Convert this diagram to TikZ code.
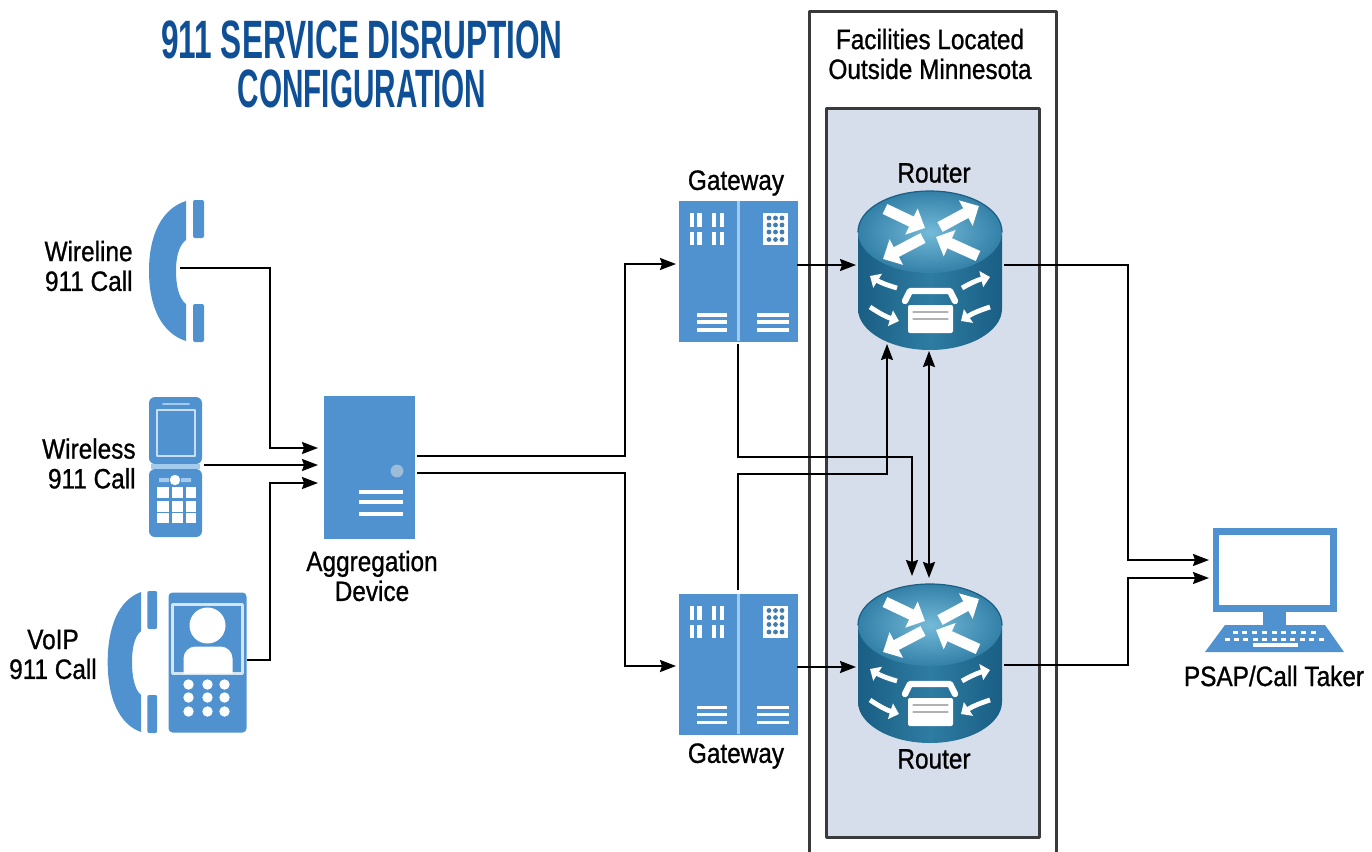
\documentclass[tikz,border=0pt]{standalone}
\usepackage{fontspec}
\setmainfont[FakeStretch=0.87,FakeBold=0.9]{Liberation Sans}
\newfontfamily\titlefont[FakeStretch=0.585]{Liberation Sans}
\newfontfamily\titlefontB[FakeStretch=0.55]{Liberation Sans}
\usetikzlibrary{arrows.meta}
\definecolor{iconblue}{HTML}{4F92CF}
\definecolor{iconpale}{HTML}{A3CBEE}
\definecolor{titleblue}{HTML}{0F4F96}
\definecolor{panelblue}{HTML}{D5DEEA}
\definecolor{frameblack}{HTML}{3A3A3A}
\definecolor{routerdark}{HTML}{1A5E84}
\definecolor{routermid}{HTML}{2E7CA2}
\definecolor{routertop}{HTML}{3380A8}
\definecolor{routerlight}{HTML}{74BAD8}

\tikzset{
    iconbox/.style={rectangle, fill=iconblue, inner sep=0pt, outer sep=0pt},
    iconslot/.style={rectangle, inner sep=0pt, outer sep=0pt},
    lbl/.style={inner sep=0pt, align=center, font=\fontsize{14}{15}\selectfont},
    wire/.style={line width=1pt, line cap=butt, line join=miter},
    bigarrow/.style={white, line width=5.5pt, line cap=butt, -{Triangle[length=7.5pt,width=14pt]}},
    tinyarrow/.style={white, line width=2.4pt, line cap=butt, -{Triangle[length=4.5pt,width=8pt]}},
    % origin at the top left of a gateway box
    pics/gatewayicon/.style={code={
        \fill[iconpale] (57.5,0) rectangle (60.5,140);
        \foreach \xa/\xb in {11/15, 18/23, 33/37, 41/45} {
            \fill[white] (\xa,12) rectangle (\xb,26);
            \fill[white] (\xb,31) rectangle (\xa,44);
        }
        \fill[white] (84,12) rectangle (109,44);
        \foreach \xa in {90,96.5,103} \foreach \ya in {17,24,31,38.5} {
            \fill[iconblue!85!black] (\xa,\ya) circle (1.2pt);
        }
        \foreach \ya in {114,121,129} {
            \draw[white, line width=1.6pt, line cap=butt] (18,\ya) -- (48,\ya);
            \draw[white, line width=1.6pt, line cap=butt] (78,\ya) -- (110,\ya);
        }
    }},
    % origin at the centre of a router
    pics/routericon/.style={code={
        \shade[left color=routerdark, right color=routerdark, middle color=routermid]
            (-72,-39) -- (-72,38) .. controls (-72,60) and (-40,79) .. (0,79)
            .. controls (40,79) and (72,60) .. (72,38) -- (72,-39) -- cycle;
        \shade[inner color=routerlight, outer color=routertop] (0,-39) ellipse (72 and 41);
        \draw[routerdark, line width=0.6pt] (-72,-39) .. controls (-72,-62) and (-40,-80) .. (0,-80)
            .. controls (40,-80) and (72,-62) .. (72,-39);
        \draw[bigarrow] (-45,-62) -- (-5,-43);
        \draw[bigarrow] (10,-44) -- (49,-65);
        \draw[bigarrow] (-7,-33) -- (-47,-12);
        \draw[bigarrow] (48,-15) -- (6,-34);
        \draw[tinyarrow] (-33,17) to[bend left=8] (-60,5);
        \draw[tinyarrow] (32,17) to[bend left=8] (60,6);
        \draw[tinyarrow] (-60,36) to[bend right=8] (-31,50);
        \draw[tinyarrow] (60,36) to[bend right=8] (31,50);
        \draw[white, line width=3.2pt, line join=round] (-25,30) -- (-20,20) -- (20,20) -- (25,30);
        \fill[white, rounded corners=1pt] (-22,34) rectangle (23,62);
        \draw[gray!60, line width=0.6pt] (-17,41) -- (18,41) (-17,48) -- (18,48);
    }},
    % origin at the centre of a handset
    pics/handseticon/.style={code={
        \fill[iconblue] (10,-70) .. controls (-15,-62) and (-27,-35) .. (-27,0)
            .. controls (-27,35) and (-15,62) .. (10,70)
            -- (10,33) .. controls (2,27) and (0,12) .. (0,0)
            .. controls (0,-12) and (2,-25) .. (10,-31) -- cycle;
        \fill[iconblue, rounded corners=1pt] (17,-71) rectangle (28,-33);
        \fill[iconblue, rounded corners=1pt] (17,33) rectangle (28,71);
    }},
    % origin at the top left of the flip phone
    pics/flipphoneicon/.style={code={
        \fill[iconblue, rounded corners=3pt] (0,0) rectangle (53,67);
        \fill[iconblue, rounded corners=3pt] (0,72) rectangle (53,140);
        \fill[iconpale] (2,67) rectangle (51,72);
        \draw[white!70!iconblue, line width=1.2pt, line cap=butt] (8,13) rectangle (46,59);
        \draw[iconpale, line width=1pt] (14,7) -- (40,7);
        \fill[white] (26,83) circle (2.6pt);
        \fill[iconpale] (10,81) rectangle (20,85) (32,81) rectangle (42,85);
        \foreach \xa/\xb in {8/20, 23/34, 37/47} \foreach \ya/\yb in {90/101, 104/115, 116/126} {
            \fill[white] (\xa,\ya) rectangle (\xb,\yb);
        }
    }},
    % origin at the top left of the videophone
    pics/videophoneicon/.style={code={
        \draw[white!75!iconblue, line width=1.2pt, line cap=butt] (4,12) rectangle (74,81);
        \fill[white] (39,33) circle (9pt);
        \fill[white] (15,81) -- (15,66) [rounded corners=6pt] -- (15,54) -- (64,54) [sharp corners] -- (64,81) -- cycle;
        \foreach \xa in {20,39,56} \foreach \ya in {92,105,119} {
            \fill[white] (\xa,\ya) circle (2.6pt);
        }
    }},
    % origin at the top left of the server box
    pics/servericon/.style={code={
        \fill[iconpale!80!gray] (73,75) circle (3.2pt);
        \foreach \ya in {96,106,118} {
            \draw[white, line width=1.8pt, line cap=butt] (35,\ya) -- (79,\ya);
        }
    }},
    % origin at the top left of the screen
    pics/laptopicon/.style={code={
        \fill[white] (6,7) rectangle (117,77);
        \fill[iconblue] (50,84) rectangle (73,97);
        \fill[iconblue] (12,97) -- (112,97) -- (131,124) -- (-8,124) -- cycle;
        \foreach \ya/\xa/\xb/\n in {103/22/100/9, 110/14/108/11} \foreach \i in {1,...,\n} {
            \pgfmathsetmacro{\xk}{\xa+(\i-1)*(\xb-\xa)/(\n-1)}
            \fill[white] (\xk-2.5,\ya) rectangle (\xk+2.5,\ya+3);
        }
        \fill[white] (40,115) rectangle (85,119);
    }}
}

\begin{document}
\begin{tikzpicture}[line cap=round,line join=round,>={Stealth[length=8pt,width=6pt,inset=1pt]},x=0.5pt,y=-0.5pt]
    \useasboundingbox (0,0) rectangle (1372,852);

    \node[inner sep=0pt, text=titleblue, font=\titlefont\bfseries\fontsize{27}{28}\selectfont] (titleA) at (362,40) {911 SERVICE DISRUPTION};
    \node[inner sep=0pt, text=titleblue, font=\titlefontB\bfseries\fontsize{27}{28}\selectfont] (titleB) at (362,89) {CONFIGURATION};

    \draw [frameblack, line width=1.5pt, line cap=butt] (809,852) -- (809,11) -- (1056,11) -- (1056,852);
    \node[rectangle, draw=frameblack, fill=panelblue, line width=1.5pt, minimum width=106.5pt, minimum height=364.5pt, inner sep=0pt] (panel) at (932.5,472.5) {};
    \node[lbl] (facilities) at (930,54) {Facilities Located\\[-0.1pt]Outside Minnesota};

    \node[iconslot, minimum width=27pt, minimum height=71pt] (wireline) at (176,271) {};
    \pic at (wireline.center) {handseticon};
    \node[iconslot, minimum width=26.5pt, minimum height=70pt] (wireless) at (175.5,467) {};
    \pic at (wireless.north west) {flipphoneicon};
    \node[iconbox, rounded corners=2pt, minimum width=39pt, minimum height=70pt] (voip) at (207.5,662.5) {};
    \pic at (voip.north west) {videophoneicon};
    \pic[xscale=0.9] at (132,662) {handseticon};
    \node[iconbox, minimum width=45.5pt, minimum height=71.5pt] (aggregator) at (369.5,467.5) {};
    \pic at (aggregator.north west) {servericon};

    \node[iconbox, minimum width=59.5pt, minimum height=70.5pt] (gatewayA) at (738.5,271.5) {};
    \pic at (gatewayA.north west) {gatewayicon};
    \node[iconbox, minimum width=59.5pt, minimum height=70.5pt] (gatewayB) at (738.5,664) {};
    \pic at (gatewayB.north west) {gatewayicon};

    \node[iconslot, minimum width=72pt, minimum height=79pt] (routerA) at (930,271) {};
    \pic at (routerA.center) {routericon};
    \node[iconslot, minimum width=72pt, minimum height=79pt] (routerB) at (930,664) {};
    \pic at (routerB.center) {routericon};

    \node[iconbox, minimum width=62pt, minimum height=42pt] (laptop) at (1275,570) {};
    \pic at (laptop.north west) {laptopicon};

    \node[lbl, anchor=east, align=right] (wirelineLbl) at (133,266) {Wireline\\[-0.1pt]911 Call};
    \node[lbl, anchor=east, align=right] (wirelessLbl) at (136,463.5) {Wireless\\[-0.1pt]911 Call};
    \node[lbl] (voipLbl) at (53,654.5) {VoIP\\[-0.1pt]911 Call};
    \node[lbl] (aggregatorLbl) at (372,576) {Aggregation\\[-0.1pt]Device};
    \node[lbl] (gatewayALbl) at (736,183) {Gateway};
    \node[lbl] (gatewayBLbl) at (736,756) {Gateway};
    \node[lbl] (routerALbl) at (934,173) {Router};
    \node[lbl] (routerBLbl) at (934,759) {Router};
    \node[lbl] (laptopLbl) at (1274,676) {PSAP/Call Taker};

    \coordinate (wirelineOut) at (180,268);
    \coordinate (wirelessOut) at (204,465);
    \coordinate (voipOut) at (247,660);
    \coordinate (aggInA) at (318,448);
    \coordinate (aggInB) at (318,465);
    \coordinate (aggInC) at (318,483);
    \coordinate (aggOutA) at (417,456);
    \coordinate (aggOutB) at (417,473);
    \coordinate (gatewayAIn) at (676,264);
    \coordinate (gatewayBIn) at (676,666);
    \coordinate (gatewayAOut) at (797,265);
    \coordinate (gatewayBOut) at (797,667);
    \coordinate (gatewayADown) at (738,344);
    \coordinate (gatewayBUp) at (738,590);
    \coordinate (routerAIn) at (856,265);
    \coordinate (routerBIn) at (856,667);
    \coordinate (routerAUp) at (887,344);
    \coordinate (routerBDown) at (912,576);
    \coordinate (routerALink) at (929,351);
    \coordinate (routerBLink) at (929,578);
    \coordinate (routerAOut) at (1004,265);
    \coordinate (routerBOut) at (1004,665);
    \coordinate (laptopInA) at (1209,560);
    \coordinate (laptopInB) at (1209,578);

    \draw [wire, ->] (wirelineOut) -- (270,268) -- (270,448) -- (aggInA);
    \draw [wire, ->] (wirelessOut) -- (aggInB);
    \draw [wire, ->] (voipOut) -- (270,660) -- (270,483) -- (aggInC);
    \draw [wire, ->] (aggOutA) -- (625,456) -- (625,264) -- (gatewayAIn);
    \draw [wire, ->] (aggOutB) -- (625,473) -- (625,666) -- (gatewayBIn);
    \draw [wire, ->] (gatewayAOut) -- (routerAIn);
    \draw [wire, ->] (gatewayBOut) -- (routerBIn);
    \draw [wire, ->] (gatewayADown) -- (738,457) -- (912,457) -- (routerBDown);
    \draw [wire, ->] (gatewayBUp) -- (738,474) -- (887,474) -- (routerAUp);
    \draw [wire, <->] (routerALink) -- (routerBLink);
    \draw [wire, ->] (routerAOut) -- (1128,265) -- (1128,560) -- (laptopInA);
    \draw [wire, ->] (routerBOut) -- (1128,665) -- (1128,578) -- (laptopInB);
\end{tikzpicture}
\end{document}
